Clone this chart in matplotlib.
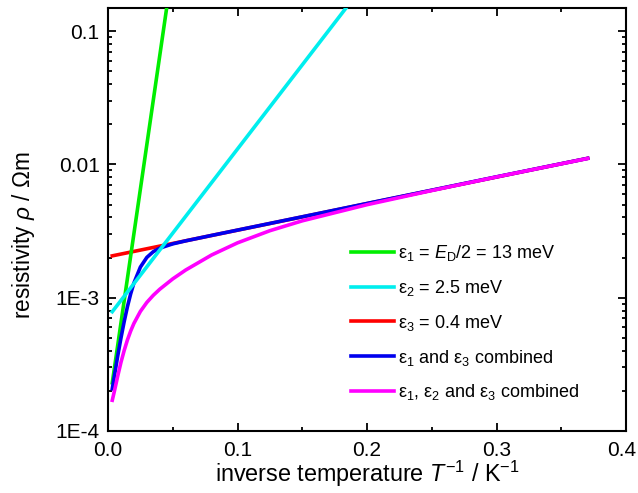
import matplotlib
matplotlib.use("Agg")
import matplotlib.pyplot as plt
from matplotlib.ticker import FixedLocator, FixedFormatter, LogLocator, NullFormatter, MultipleLocator
from matplotlib.transforms import ScaledTranslation

plt.rcParams['font.family'] = ['Liberation Sans', 'DejaVu Sans']
plt.rcParams['mathtext.fontset'] = 'custom'
plt.rcParams['mathtext.rm'] = 'Liberation Sans'
plt.rcParams['mathtext.it'] = 'Liberation Sans:italic'
plt.rcParams['mathtext.bf'] = 'Liberation Sans:bold'

# --- data ---
# straight lines (in log scale): endpoints
x_eps1 = [0.0033, 0.0453]
rho_eps1 = [2.3e-4, 0.149]
x_eps2 = [0.0033, 0.1838]
rho_eps2 = [7.85e-4, 0.149]
x_eps3 = [0.0033, 0.3704]
rho_eps3 = [2.06e-3, 1.11e-2]

# combined curves
x_comb = [0.0033, 0.005, 0.0075, 0.01, 0.0125, 0.015, 0.0175, 0.02, 0.025, 0.03,
          0.035, 0.04, 0.05, 0.06, 0.08, 0.1, 0.125, 0.15, 0.2, 0.25, 0.3, 0.3704]
rho_13 = [2.07e-4, 2.62e-4, 3.65e-4, 4.98e-4, 6.62e-4, 8.56e-4, 1.068e-3, 1.288e-3,
          1.696e-3, 2.006e-3, 2.215e-3, 2.354e-3, 2.534e-3, 2.67e-3, 2.932e-3,
          3.214e-3, 3.606e-3, 4.045e-3, 5.092e-3, 6.406e-3, 8.065e-3, 1.11e-2]
rho_123 = [1.70e-4, 2.0e-4, 2.58e-4, 3.27e-4, 4.02e-4, 4.82e-4, 5.62e-4, 6.41e-4,
           7.89e-4, 9.22e-4, 1.043e-3, 1.158e-3, 1.384e-3, 1.613e-3, 2.091e-3,
           2.579e-3, 3.181e-3, 3.772e-3, 4.985e-3, 6.365e-3, 8.05e-3, 1.108e-2]

labels = [r"ε$_1$ = $E_\mathrm{D}$/2 = 13 meV",
          r"ε$_2$ = 2.5 meV",
          r"ε$_3$ = 0.4 meV",
          r"ε$_1$ and ε$_3$ combined",
          r"ε$_1$, ε$_2$ and ε$_3$ combined"]
colors = ['#00ee00', '#00eeee', '#ff0000', '#0000ee', '#ff00ff']

ytick_vals = [1e-4, 1e-3, 1e-2, 1e-1]
ytick_labels = ['1E-4', '1E-3', '0.01', '0.1']
xtick_vals = [0.0, 0.1, 0.2, 0.3, 0.4]
xtick_labels = ['0.0', '0.1', '0.2', '0.3', '0.4']

fig = plt.figure(figsize=(6.38, 4.93), dpi=100)
ax = fig.add_axes([108/638, 1 - 431/493, (626-108)/638, (431-8)/493])

lw = 2.6
l1, = ax.plot(x_eps1, rho_eps1, color=colors[0], lw=lw, zorder=3)
l2, = ax.plot(x_eps2, rho_eps2, color=colors[1], lw=lw, zorder=5)
l3, = ax.plot(x_eps3, rho_eps3, color=colors[2], lw=lw, zorder=2)
l4, = ax.plot(x_comb, rho_13, color=colors[3], lw=lw, zorder=4)
l5, = ax.plot(x_comb, rho_123, color=colors[4], lw=lw, zorder=6)

ax.set_yscale('log')
ax.set_xlim(0, 0.4)
ax.set_ylim(1e-4, 0.149)

ax.xaxis.set_major_locator(FixedLocator(xtick_vals))
ax.xaxis.set_major_formatter(FixedFormatter(xtick_labels))
ax.xaxis.set_minor_locator(MultipleLocator(0.05))
ax.yaxis.set_major_locator(FixedLocator(ytick_vals))
ax.yaxis.set_major_formatter(FixedFormatter(ytick_labels))
ax.yaxis.set_minor_locator(LogLocator(base=10, subs=range(2, 10)))
ax.yaxis.set_minor_formatter(NullFormatter())

ax.tick_params(which='both', direction='in', top=True, right=True, width=1.3, labelsize=15, colors='black')
ax.tick_params(which='major', length=6)
ax.tick_params(which='minor', length=3)
ax.tick_params(axis='x', pad=7)
ax.tick_params(axis='y', pad=6)
for s in ax.spines.values():
    s.set_linewidth(1.5)

# keep the last x tick label inside the figure, as in the reference
last_lbl = ax.xaxis.get_major_ticks()[-1].label1
last_lbl.set_transform(last_lbl.get_transform() + ScaledTranslation(-4/100, 0, fig.dpi_scale_trans))

ax.set_xlabel(r"inverse temperature $T^{-1}$ / K$^{-1}$", fontsize=16.8)
ax.set_ylabel(r"resistivity $\rho$ / Ωm", fontsize=16.3)
ax.xaxis.set_label_coords(0.5, -0.066)
ax.yaxis.set_label_coords(-0.137, 0.463)

leg = ax.legend([l1, l2, l3, l4, l5], labels, loc='upper left', bbox_to_anchor=(0.469, 0.444),
                frameon=False, fontsize=13, handlelength=2.4, handletextpad=0.2,
                labelspacing=0.82, borderpad=0, borderaxespad=0)

fig.savefig('out.png', dpi=100)
